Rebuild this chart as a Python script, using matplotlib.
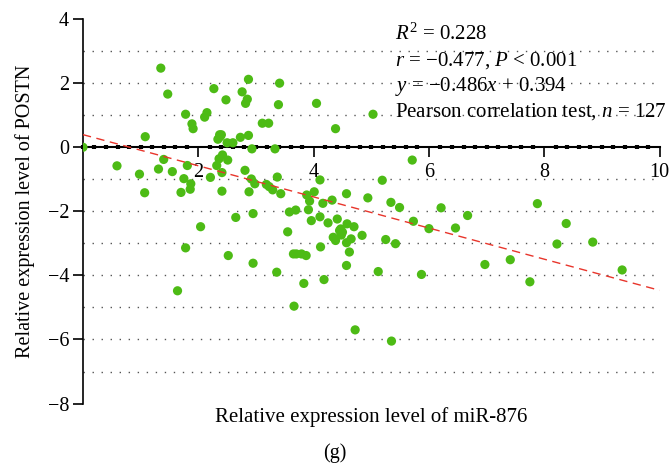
import numpy as np
import matplotlib
matplotlib.use("Agg")
import matplotlib.pyplot as plt
from matplotlib.ticker import MultipleLocator

plt.rcParams["font.family"] = ["Liberation Serif", "DejaVu Serif"]
plt.rcParams["mathtext.fontset"] = "custom"
plt.rcParams["mathtext.rm"] = "Liberation Serif"
plt.rcParams["mathtext.it"] = "Liberation Serif:italic"

# miR-876 (x) vs POSTN (y) relative expression
mir876 = [
    0.00, 1.35, 1.47, 1.08, 1.78, 1.89, 1.91, 2.11, 2.15, 2.27,
    2.48, 2.37, 2.40, 2.34, 2.50, 2.60, 2.73, 2.87, 2.76, 2.87,
    2.85, 2.82, 3.11, 3.22, 3.41, 3.39, 4.05, 4.38, 2.93, 3.33,
    0.59, 0.98, 1.07, 1.31, 1.40, 1.55, 1.75, 1.81, 1.87, 1.86,
    1.70, 2.04, 2.21, 2.32, 2.36, 2.42, 2.51, 2.41, 2.41, 2.65,
    2.81, 2.92, 2.98, 2.88, 2.95, 3.18, 3.23, 3.29, 3.37, 3.43,
    3.55, 3.58, 3.69, 3.91, 3.88, 3.93, 4.01, 4.11, 4.16, 3.96,
    4.11, 4.25, 4.32, 4.41, 4.34, 4.47, 1.78, 1.64, 2.52, 2.95,
    3.36, 3.65, 3.70, 3.79, 3.87, 3.83, 3.66, 4.12, 4.18, 4.38,
    4.57, 4.50, 4.48, 4.58, 4.70, 4.57, 4.65, 4.62, 4.57, 4.84,
    4.72, 4.94, 5.34, 5.49, 6.21, 6.67, 5.73, 6.00, 6.46, 5.25,
    5.42, 5.12, 5.87, 6.97, 5.35, 7.88, 8.38, 8.22, 8.84, 7.41,
    7.75, 9.35, 5.03, 5.71, 5.19, 2.38, 4.45,
]
postn = [
    0.00, 2.47, 1.66, 0.33, 1.03, 0.73, 0.58, 0.94, 1.08, 1.83,
    1.48, 0.39, 0.39, 0.25, 0.14, 0.14, 0.31, 0.37, 1.73, 2.12,
    1.50, 1.37, 0.75, 0.75, 2.00, 1.33, 1.37, 0.58, -0.05, -0.05,
    -0.58, -0.84, -1.42, -0.68, -0.38, -0.76, -0.98, -0.57, -1.14, -1.31,
    -1.41, -2.48, -0.94, -0.57, -0.36, -0.24, -0.40, -0.79, -1.37, -2.19,
    -0.72, -0.99, -1.14, -1.39, -2.07, -1.16, -1.23, -1.33, -0.93, -1.45,
    -2.64, -2.02, -1.96, -1.95, -1.49, -1.68, -1.39, -1.02, -1.75, -2.29,
    -2.17, -2.36, -1.65, -2.24, -2.81, -2.55, -3.14, -4.48, -3.38, -3.62,
    -3.90, -3.33, -3.33, -3.33, -3.38, -4.25, -4.96, -3.11, -4.13, -2.91,
    -1.45, -2.65, -2.74, -2.39, -2.48, -2.98, -2.86, -3.27, -3.69, -2.75,
    -5.70, -1.58, -1.72, -1.88, -1.89, -2.13, -2.31, -2.54, -2.52, -2.88,
    -3.01, -3.88, -3.97, -3.66, -6.05, -1.76, -2.38, -3.02, -2.96, -3.51,
    -4.20, -3.83, 1.03, -0.40, -1.03, 0.33, -2.60,
]

slope, intercept = -0.486, 0.394
grid_levels = [-7, -6, -5, -4, -3, -2, -1, 1, 2, 3]
stats_lines = [
    "$R^2$ = 0.228",
    "$r$ = \u22120.477, $P$ < 0.001",
    "$y$ = \u22120.486$x$ + 0.394",
    "Pearson correlation test, $n$ = 127",
]

fig = plt.figure(figsize=(6.69, 4.66), dpi=100)
ax = fig.add_axes([0.124, 0.134, 0.862, 0.825])

for lv in grid_levels:
    ax.axhline(lv, color="#555555", lw=1.0, ls=(0, (1, 5.5)), zorder=1)

ax.scatter(mir876, postn, s=44, color="#4dbb15", edgecolors="none", zorder=3)

xfit = np.array([0, 10])
ax.plot(xfit, slope * xfit + intercept, color="#e8352b", lw=1.0,
        ls=(0, (6, 4)), zorder=4)

ax.set_xlim(0, 10)
ax.set_ylim(-8, 4)
ax.spines["top"].set_visible(False)
ax.spines["right"].set_visible(False)
ax.spines["bottom"].set_position(("data", 0))
ax.spines["bottom"].set_linewidth(1.5)
ax.spines["left"].set_linewidth(1.2)
ax.spines["bottom"].set_zorder(2)

ax.set_xticks([2, 4, 6, 8, 10])
ax.xaxis.set_minor_locator(MultipleLocator(0.2))
ax.set_yticks([-8, -6, -4, -2, 0, 2, 4])
ax.tick_params(axis="x", which="major", direction="out", length=7,
               width=1.2, labelsize=14.5, pad=4)
ax.tick_params(axis="x", which="minor", direction="inout", length=3,
               width=3)
ax.tick_params(axis="y", which="major", direction="out", length=7,
               width=1.2, labelsize=14.5, pad=3)

ax.set_xlabel("Relative expression level of miR-876", fontsize=15)
ax.xaxis.set_label_coords(0.5, -0.008)
ax.set_ylabel("Relative expression level of POSTN", fontsize=14.5,
              labelpad=9)

y0 = 3.35
for i, line in enumerate(stats_lines):
    ax.text(5.41, y0 - i * 0.8, line, fontsize=15, va="baseline",
            ha="left", zorder=5)

fig.text(0.5, 0.006, "(g)", ha="center", va="bottom", fontsize=14.5)

fig.savefig("out.png", dpi=100)
